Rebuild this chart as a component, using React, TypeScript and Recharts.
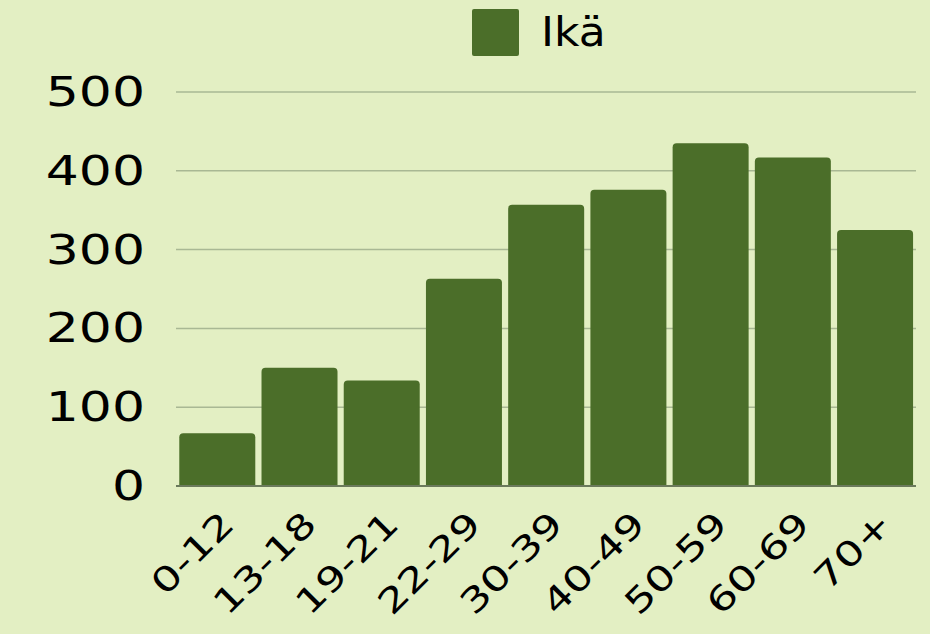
import { BarChart, Bar, XAxis, YAxis, CartesianGrid, Legend } from "recharts";

const ageGroups = ["0-12", "13-18", "19-21", "22-29", "30-39", "40-49", "50-59", "60-69", "70+"];
const counts = [67, 150, 134, 263, 357, 376, 435, 417, 325];
const yTicks = [0, 100, 200, 300, 400, 500];

const BG = "#e3efc3";
const BAR = "#4b6e29";
const GRID = "#a9b894";
const FONT = "'DejaVu Sans', sans-serif";

const data = ageGroups.map((g, i) => ({ group: g, value: counts[i] }));

const YTick = ({ x, y, payload }: any) => (
  <g transform={`translate(${x},${y}) scale(1.3,1)`}>
    <text textAnchor="end" dy={14} fontSize={40} fontFamily={FONT} fill="#000">
      {payload.value}
    </text>
  </g>
);

const XTick = ({ x, y, payload }: any) => (
  <g transform={`translate(${x + 19},${y + 32}) rotate(-45) scale(1.3,1)`}>
    <text textAnchor="end" fontSize={34} fontFamily={FONT} fill="#000">
      {payload.value}
    </text>
  </g>
);

const LegendBox = () => (
  <div style={{ display: "flex", alignItems: "center", height: 47, paddingLeft: 472 }}>
    <span style={{ width: 47, height: 47, background: BAR, borderRadius: 2, display: "inline-block" }} />
    <span
      style={{
        marginLeft: 22,
        fontSize: 40,
        fontFamily: FONT,
        color: "#000",
        lineHeight: "47px",
        display: "inline-block",
        transform: "scaleX(1.1)",
        transformOrigin: "left center",
      }}
    >
      Ikä
    </span>
  </div>
);

export default function App() {
  return (
    <div style={{ position: "absolute", left: 0, top: 0, width: 930, height: 634, background: BG }}>
      <BarChart
        width={930}
        height={634}
        data={data}
        margin={{ top: 9, right: 14, left: 0, bottom: 0 }}
        barCategoryGap="4%"
      >
        <Legend
          verticalAlign="top"
          align="left"
          height={83}
          wrapperStyle={{ left: 0, width: 930 }}
          content={() => <LegendBox />}
        />
        <CartesianGrid vertical={false} stroke={GRID} strokeWidth={1.5} />
        <XAxis
          dataKey="group"
          height={148}
          interval={0}
          tickLine={false}
          axisLine={{ stroke: "#6b7a5c", strokeWidth: 2 }}
          tick={<XTick />}
        />
        <YAxis
          width={176}
          domain={[0, 500]}
          ticks={yTicks}
          tickLine={false}
          axisLine={false}
          tickMargin={25}
          tick={<YTick />}
        />
        <Bar dataKey="value" name="Ikä" fill={BAR} radius={[4, 4, 0, 0]} isAnimationActive={false} />
      </BarChart>
    </div>
  );
}
